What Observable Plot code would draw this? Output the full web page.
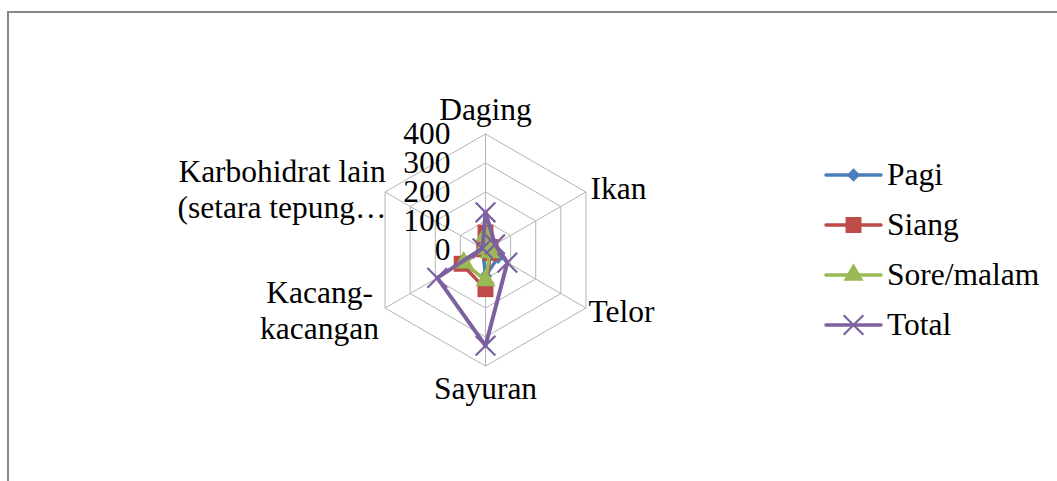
<!DOCTYPE html>
<html><head><meta charset="utf-8">
<script src="https://cdn.jsdelivr.net/npm/d3@7"></script>
<script src="https://cdn.jsdelivr.net/npm/@observablehq/plot@0.6"></script>
<style>
html,body{margin:0;padding:0;background:#fff}
body{width:1057px;height:481px;overflow:hidden;position:relative}
#frame{position:absolute;left:7px;top:11px;width:2000px;height:1000px;border-left:2px solid #878787;border-top:2px solid #878787}
#chart{position:absolute;left:0;top:0}
#legend{position:absolute;left:0;top:0}
</style>
</head><body>
<div id="frame"></div>
<div id="chart"></div>
<div id="legend"></div>
<script>
// ---- data ----
const categories = ["Daging", "Ikan", "Telor", "Sayuran", "Kacang-\nkacangan", "Karbohidrat lain\n(setara tepung\u2026"];
const seriesNames = ["Pagi", "Siang", "Sore/malam", "Total"];
const pagi  = [20, 5, 50, 90, 10, 0];
const siang = [60, 20, 20, 135, 95, 5];
const sore  = [50, 13, 17, 105, 87, 7];
const total = [130, 38, 87, 330, 192, 12];
const ringTicks = [0, 100, 200, 300, 400];

// ---- styles / layout ----
const FONT = "Liberation Serif";
const colors = ["#4A7EBB", "#BE4B48", "#98B954", "#7D60A0"];
const symbols = ["diamond2", "square", "triangle", "times"];
const W = 1057, H = 481, cx = 485, cy = 249.5, rMax = 116, vMax = 400;
const k = rMax / vMax;
const FS = 31.5;
const labelStyle = [
  {anchor: "middle", dx: 0, dy: -25},
  {anchor: "start", dx: 4.5, dy: -4.5},
  {anchor: "start", dx: 2.5, dy: 2.5},
  {anchor: "middle", dx: 0, dy: 21.5},
  {anchor: "middle", dx: -65.5, dy: 1.8},
  {anchor: "middle", dx: -103, dy: -3.6}
];

const n = categories.length;
const ang = i => i * 2 * Math.PI / n;
const px = (v, i) => v * Math.sin(ang(i));
const py = (v, i) => v * Math.cos(ang(i));

const seriesVals = [pagi, siang, sore, total];
const rings = ringTicks.filter(t => t > 0);
const ringData = rings.flatMap(t => d3.range(n + 1).map(i => ({ring: t, x: px(t, i % n), y: py(t, i % n)})));
const spokes = categories.map((c, i) => ({x2: px(vMax, i), y2: py(vMax, i)}));

const marks = [
  Plot.line(ringData, {x: "x", y: "y", z: "ring", stroke: "#b4b4b4", strokeWidth: 1}),
  Plot.link(spokes, {x1: () => 0, y1: () => 0, x2: "x2", y2: "y2", stroke: "#b4b4b4", strokeWidth: 1}),
  Plot.text(ringTicks, {x: () => 0, y: d => d, text: d => String(d), textAnchor: "end", dx: -35, fontSize: FS, fill: "#000", fontFamily: FONT})
];
categories.forEach((c, i) => {
  const s = labelStyle[i];
  marks.push(Plot.text([c], {x: () => px(vMax, i), y: () => py(vMax, i), text: d => d, textAnchor: s.anchor, dx: s.dx, dy: s.dy, fontSize: FS, lineHeight: 1.13, fill: "#000", fontFamily: FONT}));
});
seriesVals.forEach((vals, si) => {
  const pts = vals.map((v, i) => ({x: px(v, i), y: py(v, i)}));
  const closed = pts.concat([pts[0]]);
  marks.push(Plot.line(closed, {x: "x", y: "y", stroke: colors[si], strokeWidth: si === 3 ? 4 : 3.5, strokeLinejoin: "round"}));
  const sym = symbols[si];
  if (sym === "times") {
    marks.push(Plot.dot(pts, {x: "x", y: "y", symbol: sym, r: 9, stroke: colors[si], strokeWidth: 2.2, fill: "none"}));
  } else {
    const r = sym === "square" ? 9 : sym === "triangle" ? 7.5 : 6;
    marks.push(Plot.dot(pts, {x: "x", y: "y", symbol: sym, r, fill: colors[si], stroke: "none"}));
  }
});

const chart = Plot.plot({
  width: W, height: H, margin: 0,
  x: {domain: [-cx / k, (W - cx) / k], axis: null},
  y: {domain: [-(H - cy) / k, cy / k], axis: null},
  style: {background: "transparent", fontFamily: FONT, overflow: "visible"},
  marks
});
document.getElementById("chart").appendChild(chart);

// ---- legend ----
const lg = d3.select("#legend").append("svg").attr("width", W).attr("height", H);
const lx0 = 826, lx1 = 881, ly0 = 175, lstep = 50;
seriesNames.forEach((name, si) => {
  const y = ly0 + si * lstep;
  const g = lg.append("g");
  g.append("line").attr("x1", lx0).attr("x2", lx1).attr("y1", y).attr("y2", y)
    .attr("stroke", colors[si]).attr("stroke-width", 3.5).attr("stroke-linecap", "round");
  const mx = (lx0 + lx1) / 2;
  if (symbols[si] === "times") {
    g.append("path").attr("d", d3.symbol(d3.symbolTimes, Math.PI * 81)()).attr("transform", `translate(${mx},${y})`)
      .attr("stroke", colors[si]).attr("stroke-width", 2.2).attr("fill", "none");
  } else {
    const map = {diamond2: [d3.symbolDiamond2, 6], square: [d3.symbolSquare, 9], triangle: [d3.symbolTriangle, 7.5]};
    const [t, r] = map[symbols[si]];
    g.append("path").attr("d", d3.symbol(t, Math.PI * r * r)()).attr("transform", `translate(${mx},${y})`)
      .attr("fill", colors[si]);
  }
  g.append("text").attr("x", 887).attr("y", y).attr("dy", "0.32em").attr("font-size", FS)
    .style("font-family", FONT).attr("fill", "#000").text(name);
});
</script>
</body></html>
